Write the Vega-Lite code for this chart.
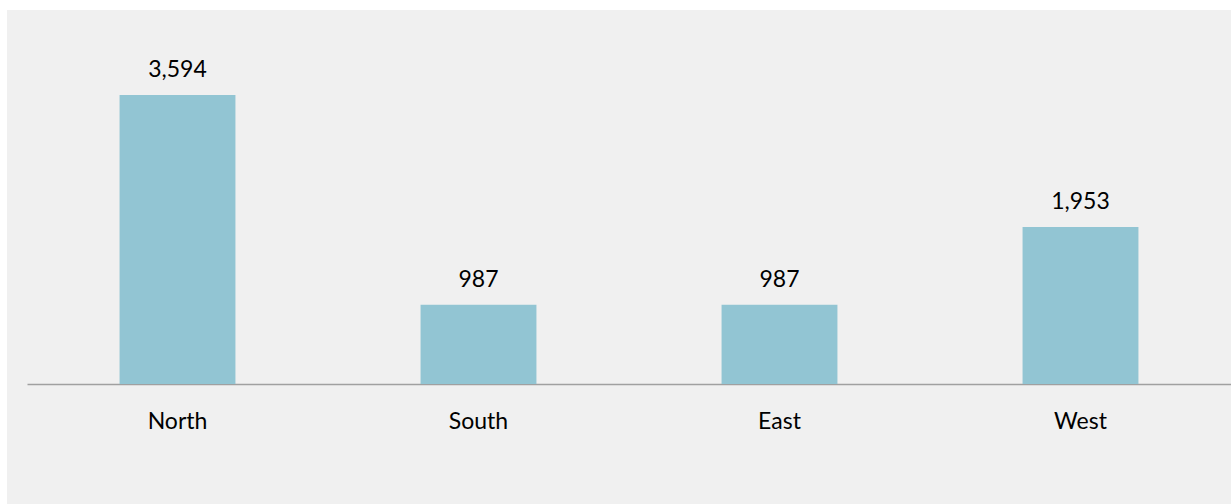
{
  "$schema": "https://vega.github.io/schema/vega-lite/v6.json",
  "width": 1224,
  "height": 494,
  "autosize": {"type": "none"},
  "padding": {"left": 7, "top": 10, "right": 0, "bottom": 0},
  "background": "#ffffff",
  "config": {
    "view": {"fill": "#f0f0f0", "stroke": null},
    "font": "Lato"
  },
  "data": {
    "values": [
      {"region": "North", "value": 3594},
      {"region": "South", "value": 987},
      {"region": "East", "value": 987},
      {"region": "West", "value": 1953}
    ]
  },
  "encoding": {
    "x": {
      "field": "region",
      "type": "nominal",
      "sort": null,
      "scale": {"range": [20, 1224], "paddingInner": 0.615, "paddingOuter": 0.3075},
      "axis": {
        "title": null,
        "ticks": false,
        "labelAngle": 0,
        "labelFontSize": 23,
        "labelColor": "#000000",
        "labelPadding": 26,
        "domainColor": "#a0a0a0",
        "domainWidth": 1.5,
        "offset": -120,
        "grid": false
      }
    },
    "y": {
      "field": "value",
      "type": "quantitative",
      "scale": {"domain": [0, 4651], "range": [374, 0], "nice": false, "zero": true},
      "axis": null
    }
  },
  "layer": [
    {"mark": {"type": "bar", "color": "#92c5d3"}},
    {
      "mark": {"type": "text", "baseline": "alphabetic", "dy": -18, "fontSize": 23, "color": "#000000"},
      "encoding": {"text": {"field": "value", "type": "quantitative", "format": ","}}
    }
  ]
}
